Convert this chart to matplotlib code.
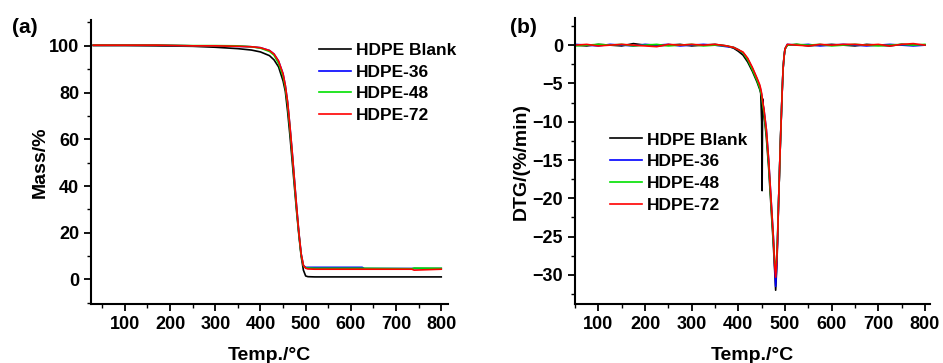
import matplotlib
matplotlib.use("Agg")
import matplotlib.pyplot as plt
from matplotlib.ticker import MultipleLocator

plt.rcParams['font.family'] = ['Liberation Sans', 'DejaVu Sans']
plt.rcParams['font.weight'] = 'bold'

labels = ['HDPE Blank', 'HDPE-36', 'HDPE-48', 'HDPE-72']
colors = ['#000000', '#0000ff', '#00e000', '#ff0000']

# (a) TGA mass curves
T_tga = [30, 100, 170, 250, 300, 350, 380, 400, 420, 430, 440, 450, 455, 460, 465,
         470, 475, 480, 485, 490, 495, 500, 505, 520, 625, 630, 735, 740, 800]
mass_blank = [100.1, 100.1, 100.0, 99.8, 99.4, 98.8, 98.2, 97.4, 95.8, 94.0, 91.0, 85.0, 80.5, 72.0, 62.0,
              51.0, 40.0, 29.0, 19.0, 10.0, 4.0, 1.5, 1.2, 1.1, 1.1, 1.1, 1.1, 1.1, 1.1]
mass_36 = [100.3, 100.3, 100.3, 100.0, 100.0, 99.8, 99.6, 99.2, 98.0, 96.5, 93.5, 88.0, 83.0, 76.0, 66.0,
           55.0, 43.0, 31.0, 20.0, 11.0, 6.0, 5.2, 5.2, 5.2, 5.2, 4.7, 4.7, 4.7, 4.7]
mass_48 = [100.3, 100.3, 100.3, 100.1, 100.1, 100.0, 99.6, 99.0, 97.6, 96.0, 92.5, 87.0, 82.0, 75.0, 65.0,
           54.0, 42.0, 30.0, 19.5, 10.5, 5.8, 5.0, 4.9, 4.8, 4.8, 4.8, 4.6, 4.9, 4.8]
mass_72 = [100.3, 100.3, 100.3, 100.0, 100.0, 99.8, 99.6, 99.2, 98.0, 96.5, 93.5, 88.0, 83.0, 76.0, 66.0,
           55.0, 43.0, 31.0, 20.0, 11.0, 6.0, 4.8, 4.5, 4.4, 4.4, 4.4, 4.4, 4.0, 4.4]

# (b) DTG curves
T_dtg = [50, 75, 100, 125, 150, 175, 200, 225, 250, 275, 300, 325, 350, 375, 390, 400, 410, 420,
         430, 440, 446, 448, 450, 451, 452, 455, 460, 465, 470, 475, 478, 480, 482, 484, 486,
         488, 490, 492, 494, 496, 498, 500, 505, 525, 550, 575, 600, 625, 650, 675, 700,
         725, 750, 775, 800]
dtg_blank = [0.0, -0.1, 0.1, 0.0, -0.1, 0.2, 0.0, -0.1, 0.0, 0.1, -0.1, 0.0, 0.1, -0.1, -0.4, -0.8, -1.3, -2.2,
             -3.4, -4.8, -5.8, -6.3, -10.0, -19.0, -7.0, -9.0, -12.0, -16.0, -21.0, -26.0, -29.5, -32.0, -29.5, -26.0, -21.0,
             -17.0, -13.0, -9.5, -6.0, -3.0, -1.5, -0.5, 0.0, 0.1, -0.1, 0.0, 0.1, 0.0, -0.1, 0.1, 0.0,
             -0.1, 0.1, 0.0, 0.0]
dtg_36 = [0.1, 0.0, -0.1, 0.1, 0.0, -0.1, 0.1, 0.0, 0.1, -0.1, 0.0, 0.1, 0.0, -0.2, -0.3, -0.6, -1.0, -1.8,
          -3.0, -4.4, -5.4, -5.9, -6.5, -7.0, -7.5, -8.5, -11.0, -15.0, -20.0, -25.0, -29.0, -31.5, -29.0, -25.5, -21.0,
          -17.0, -13.0, -9.5, -6.0, -3.0, -1.5, -0.5, 0.1, 0.0, 0.1, -0.1, 0.0, 0.1, 0.0, -0.1, 0.0,
          0.1, 0.0, -0.1, 0.0]
dtg_48 = [-0.1, 0.0, 0.1, 0.0, 0.1, -0.1, 0.0, 0.1, -0.1, 0.0, 0.1, -0.1, 0.0, -0.1, -0.3, -0.6, -1.0, -1.9,
          -3.2, -4.6, -5.6, -6.1, -6.7, -7.2, -7.7, -8.8, -11.5, -15.5, -20.5, -25.5, -28.5, -29.0, -28.0, -25.0, -21.0,
          -17.0, -13.0, -9.5, -6.0, -3.0, -1.5, -0.5, 0.0, 0.1, 0.0, 0.1, -0.1, 0.0, 0.1, 0.0, -0.1,
          0.0, 0.1, 0.0, 0.1]
dtg_72 = [0.0, 0.1, -0.1, 0.0, 0.1, 0.0, -0.1, -0.2, 0.1, 0.0, 0.1, 0.0, 0.1, -0.1, -0.3, -0.6, -0.9, -1.7,
          -2.9, -4.3, -5.2, -5.7, -6.3, -6.8, -7.3, -8.4, -11.0, -15.0, -20.0, -25.0, -28.8, -30.3, -28.5, -25.5, -21.0,
          -17.0, -13.0, -9.5, -6.0, -3.0, -1.5, -0.5, 0.1, 0.0, -0.1, 0.1, 0.0, 0.1, 0.1, 0.0, 0.1,
          -0.1, 0.1, 0.2, 0.0]

mass_series = [mass_blank, mass_36, mass_48, mass_72]
dtg_series = [dtg_blank, dtg_36, dtg_48, dtg_72]

fig = plt.figure(figsize=(9.43, 3.63), dpi=100)
ax1 = fig.add_axes([0.0965, 0.1625, 0.3786, 0.782])
ax2 = fig.add_axes([0.6098, 0.1625, 0.3765, 0.787])


def style_axis(ax):
    for side in ['top', 'right']:
        ax.spines[side].set_visible(False)
    for side in ['left', 'bottom']:
        ax.spines[side].set_linewidth(1.5)
    ax.tick_params(which='major', direction='out', length=5, width=1.3, labelsize=13)
    ax.tick_params(which='minor', direction='out', length=3, width=1.0)
    for lab in ax.get_xticklabels() + ax.get_yticklabels():
        lab.set_fontweight('bold')
    ax.set_xlabel('Temp./\u00b0C', fontsize=14, fontweight='bold', labelpad=10)


for vals, lab, col in zip(mass_series, labels, colors):
    ax1.plot(T_tga, vals, color=col, lw=1.2, label=lab)
ax1.set_xlim(25, 815)
ax1.set_ylim(-10.5, 111)
ax1.xaxis.set_minor_locator(MultipleLocator(50))
ax1.yaxis.set_major_locator(MultipleLocator(20))
ax1.yaxis.set_minor_locator(MultipleLocator(10))
ax1.set_xticks([100, 200, 300, 400, 500, 600, 700, 800])
style_axis(ax1)
ax1.set_ylabel('Mass/%', fontsize=14, fontweight='bold')
ax1.yaxis.set_label_coords(-0.118, 0.5)
ax1.legend(loc='upper left', bbox_to_anchor=(0.62, 0.945), frameon=False,
           prop={'size': 12.5, 'weight': 'bold'}, handlelength=1.8, handletextpad=0.3,
           labelspacing=0.38, borderaxespad=0)

for vals, lab, col in zip(dtg_series, labels, colors):
    ax2.plot(T_dtg, vals, color=col, lw=1.2, label=lab)
ax2.set_xlim(50, 811)
ax2.set_ylim(-33.8, 3.5)
ax2.xaxis.set_minor_locator(MultipleLocator(50))
ax2.set_xticks([100, 200, 300, 400, 500, 600, 700, 800])
ax2.yaxis.set_major_locator(MultipleLocator(5))
ax2.yaxis.set_minor_locator(MultipleLocator(2.5))
style_axis(ax2)
ax2.set_ylabel('DTG/(%/min)', fontsize=14, fontweight='bold')
ax2.yaxis.set_label_coords(-0.128, 0.5)
ax2.legend(loc='upper left', bbox_to_anchor=(0.08, 0.625), frameon=False,
           prop={'size': 12.5, 'weight': 'bold'}, handlelength=1.8, handletextpad=0.3,
           labelspacing=0.38, borderaxespad=0)

fig.text(0.026, 0.925, '(a)', fontsize=15, fontweight='bold', ha='center', va='center')
fig.text(0.555, 0.925, '(b)', fontsize=15, fontweight='bold', ha='center', va='center')

fig.savefig('out.png', dpi=100)
